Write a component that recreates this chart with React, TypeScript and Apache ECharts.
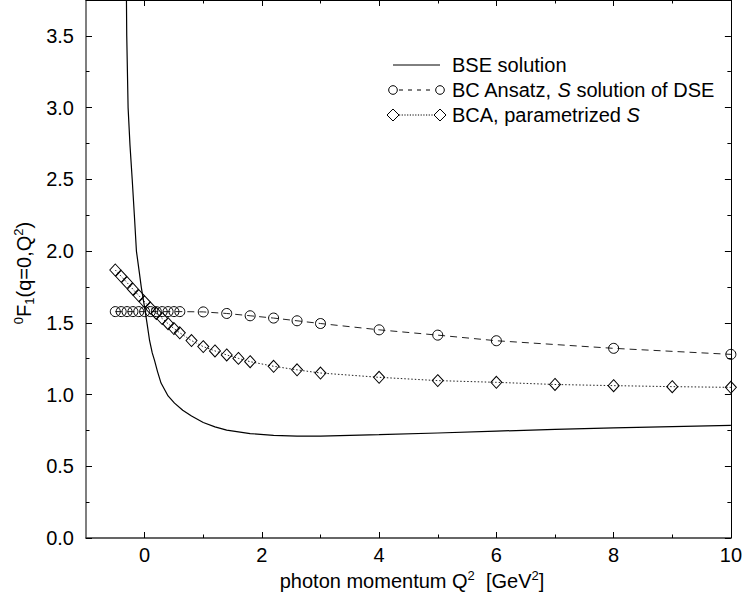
import React, { useEffect, useRef } from "react";
import * as echarts from "echarts";

// ---- data ----
const bseQ = [-0.32, -0.315, -0.31, -0.305, -0.282, -0.25, -0.212, -0.175, -0.14, -0.09, -0.056, 0.0, 0.04, 0.085, 0.13, 0.17, 0.22, 0.28, 0.4, 0.51, 0.65, 0.8, 1.0, 1.2, 1.4, 1.8, 2.2, 2.6, 3.0, 4, 5, 6, 7, 8, 9, 10];
const bseF = [5.0, 4.2, 3.75, 3.5, 3.0, 2.74, 2.5, 2.25, 2.0, 1.85, 1.745, 1.606, 1.5, 1.375, 1.29, 1.236, 1.16, 1.08, 0.99, 0.94, 0.89, 0.85, 0.805, 0.775, 0.752, 0.728, 0.715, 0.71, 0.71, 0.72, 0.732, 0.745, 0.757, 0.767, 0.776, 0.785];

const bcQ = [-0.5, -0.4, -0.3, -0.2, -0.1, 0, 0.1, 0.2, 0.3, 0.4, 0.5, 0.6, 1.0, 1.4, 1.8, 2.2, 2.6, 3.0, 4, 5, 6, 8, 10];
const bcF = [1.578, 1.578, 1.578, 1.578, 1.578, 1.578, 1.578, 1.578, 1.578, 1.578, 1.578, 1.578, 1.576, 1.565, 1.549, 1.533, 1.514, 1.495, 1.451, 1.414, 1.375, 1.322, 1.28];

const bcaQ = [-0.5, -0.4, -0.3, -0.2, -0.1, 0, 0.1, 0.2, 0.3, 0.4, 0.5, 0.6, 0.8, 1.0, 1.2, 1.4, 1.6, 1.8, 2.2, 2.6, 3.0, 4, 5, 6, 7, 8, 9, 10];
const bcaF = [1.868, 1.824, 1.78, 1.734, 1.69, 1.646, 1.603, 1.565, 1.53, 1.494, 1.46, 1.43, 1.376, 1.334, 1.304, 1.276, 1.252, 1.229, 1.197, 1.172, 1.15, 1.12, 1.097, 1.085, 1.07, 1.062, 1.055, 1.05];

const xMajor = [0, 2, 4, 6, 8, 10];
const xMinor = [1, 3, 5, 7, 9];
const yMajor = [0, 0.5, 1, 1.5, 2, 2.5, 3, 3.5];
const yMinor = [0.25, 0.75, 1.25, 1.75, 2.25, 2.75, 3.25];

const legendNames = ["BSE solution", "BC Ansatz, {i|S} solution of DSE", "BCA, parametrized {i|S}"];

const FONT = "'Liberation Sans', Arial, Helvetica, sans-serif";
const FS = 20;

function pairs(xs: number[], ys: number[]) {
  return xs.map((x, i) => [x, ys[i]]);
}

export default function App() {
  const ref = useRef<HTMLDivElement>(null);
  useEffect(() => {
    if (!ref.current) return;
    const chart = echarts.init(ref.current, undefined, { renderer: "svg" });

    const xBase = (pos: string, ticks: number[], len: number, line: boolean, labels: boolean) => ({
      type: "value",
      min: -1,
      max: 10,
      position: pos,
      splitLine: { show: false },
      axisLine: { show: line, onZero: false, lineStyle: { color: pos === "bottom" ? "#333" : "#000", width: pos === "bottom" ? 1.5 : 1 } },
      axisTick: { show: true, inside: true, length: len, customValues: ticks, lineStyle: { color: "#000", width: 1 } },
      axisLabel: labels
        ? { show: true, customValues: ticks, fontSize: FS, fontFamily: FONT, color: "#000", margin: 7 }
        : { show: false },
    });
    const yBase = (pos: string, ticks: number[], len: number, line: boolean, labels: boolean) => ({
      type: "value",
      min: 0,
      max: 3.75,
      position: pos,
      splitLine: { show: false },
      axisLine: { show: line, onZero: false, lineStyle: { color: pos === "left" ? "#555" : "#000", width: pos === "left" ? 1.5 : 1 } },
      axisTick: { show: true, inside: true, length: len, customValues: ticks, lineStyle: { color: "#000", width: 1 } },
      axisLabel: labels
        ? {
            show: true,
            customValues: ticks,
            fontSize: FS,
            fontFamily: FONT,
            color: "#000",
            margin: 12,
            formatter: (v: number) => v.toFixed(1),
          }
        : { show: false },
    });

    const sym = { color: "rgba(0,0,0,0)", borderColor: "#000", borderWidth: 1 };

    const lx1 = 393;
    const lx2 = 440;
    const ly = [65, 90, 115];
    const diamond = (cx: number, cy: number, r: number) => ({
      type: "polygon",
      shape: { points: [[cx - r, cy], [cx, cy - r], [cx + r, cy], [cx, cy + r]] },
      style: { fill: "none", stroke: "#000", lineWidth: 1 },
    });

    chart.setOption({
      animation: false,
      backgroundColor: "#fff",
      grid: { left: 86, right: 12, top: -2, bottom: 62 },
      xAxis: [
        xBase("bottom", xMajor, 6, true, true),
        xBase("bottom", xMinor, 3.5, false, false),
        xBase("top", xMajor, 6, true, false),
        xBase("top", xMinor, 3.5, false, false),
      ],
      yAxis: [
        yBase("left", yMajor, 6, true, true),
        yBase("left", yMinor, 3.5, false, false),
        yBase("right", yMajor, 6, true, false),
        yBase("right", yMinor, 3.5, false, false),
      ],
      series: [
        {
          name: "BSE solution",
          type: "line",
          data: pairs(bseQ, bseF),
          symbol: "none",
          clip: true,
          lineStyle: { color: "#000", width: 1.2 },
          silent: true,
          z: 3,
        },
        {
          name: "BC Ansatz",
          type: "line",
          data: pairs(bcQ, bcF),
          symbol: "circle",
          symbolSize: 10,
          itemStyle: sym,
          lineStyle: { color: "#222", width: 1, type: [7, 5] },
          silent: true,
          z: 2,
        },
        {
          name: "BCA",
          type: "line",
          data: pairs(bcaQ, bcaF),
          symbol: "diamond",
          symbolSize: [11, 12],
          itemStyle: sym,
          lineStyle: { color: "#222", width: 1, type: [1.5, 2] },
          silent: true,
          z: 2,
        },
      ],
      graphic: [
        // y axis title
        {
          type: "text",
          x: 24,
          y: 273,
          rotation: Math.PI / 2,
          style: {
            text: "{sup|0}F{sub|1}(q=0,Q{sup|2})",
            fontSize: FS,
            fontFamily: FONT,
            fill: "#000",
            lineHeight: 24,
            align: "center",
            verticalAlign: "middle",
            rich: {
              sup: { fontSize: 13, fontFamily: FONT, lineHeight: 12, verticalAlign: "top" },
              sub: { fontSize: 13, fontFamily: FONT, lineHeight: 12, verticalAlign: "bottom" },
            },
          },
        },
        // x axis title
        {
          type: "text",
          x: 412,
          y: 581,
          style: {
            text: "photon momentum Q{sup|2}  [GeV{sup|2}]",
            fontSize: FS,
            fontFamily: FONT,
            fill: "#000",
            lineHeight: 24,
            align: "center",
            verticalAlign: "middle",
            rich: {
              sup: { fontSize: 13, fontFamily: FONT, lineHeight: 12, verticalAlign: "top" },
            },
          },
        },
        // legend
        { type: "line", shape: { x1: lx1, y1: ly[0], x2: lx2, y2: ly[0] }, style: { stroke: "#000", lineWidth: 1 } },
        { type: "circle", shape: { cx: lx1, cy: ly[1], r: 4.3 }, style: { fill: "none", stroke: "#000", lineWidth: 1 } },
        { type: "line", shape: { x1: lx1 + 6, y1: ly[1], x2: lx2 - 5, y2: ly[1] }, style: { stroke: "#000", lineWidth: 1, lineDash: [4, 5] } },
        { type: "circle", shape: { cx: lx2, cy: ly[1], r: 4.3 }, style: { fill: "none", stroke: "#000", lineWidth: 1 } },
        diamond(lx1, ly[2], 6),
        { type: "line", shape: { x1: lx1 + 6, y1: ly[2], x2: lx2 - 6, y2: ly[2] }, style: { stroke: "#000", lineWidth: 1, lineDash: [1.2, 1.5] } },
        diamond(lx2, ly[2], 6),
        ...legendNames.map((t, i) => ({
          type: "text",
          x: 452,
          y: ly[i],
          style: {
            text: t,
            fontSize: FS,
            fontFamily: FONT,
            fill: "#000",
            align: "left",
            verticalAlign: "middle",
            rich: { i: { fontSize: FS, fontFamily: FONT, fontStyle: "italic" } },
          },
        })),
      ],
    });
    return () => chart.dispose();
  }, []);
  return <div ref={ref} style={{ position: "absolute", left: 0, top: 0, width: 745, height: 600 }} />;
}
